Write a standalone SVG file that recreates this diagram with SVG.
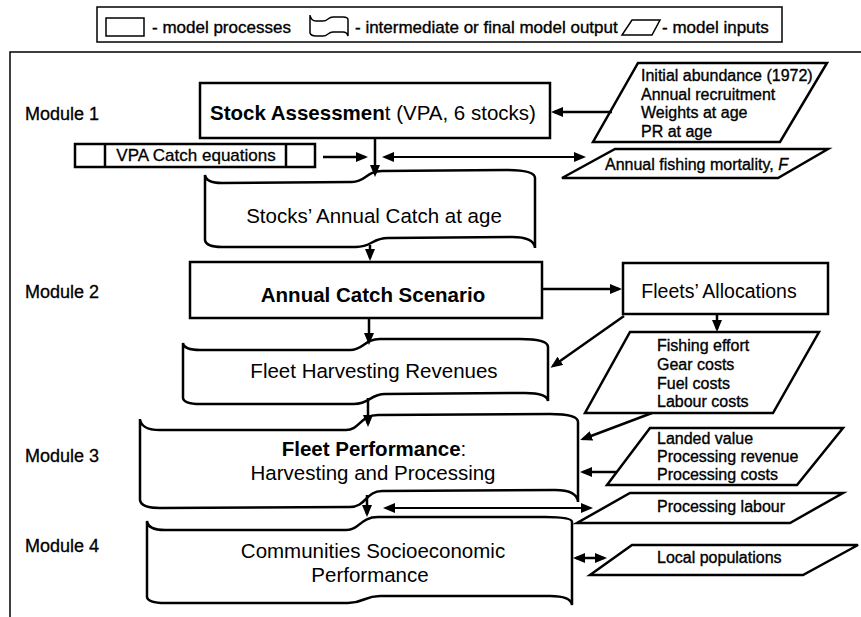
<svg xmlns="http://www.w3.org/2000/svg" width="861" height="617" viewBox="0 0 861 617">
<defs>
<marker id="ah" viewBox="0 0 12 10" refX="9" refY="5" markerWidth="12" markerHeight="10" markerUnits="userSpaceOnUse" orient="auto-start-reverse">
<path d="M0,0 L12,5 L0,10 Z" fill="#000"/>
</marker>
</defs>
<style>
.shp{fill:#fff;stroke:#000;stroke-width:2.5;stroke-linejoin:miter}
.thin{fill:#fff;stroke:#000;stroke-width:1.5}
.con{fill:none;stroke:#000;stroke-width:2.5}
.con2{fill:none;stroke:#000;stroke-width:2}
text{font-family:"Liberation Sans",Arial,sans-serif;fill:#000}
.main{font-size:20.5px;text-anchor:middle}
.mod{font-size:18px;stroke:#000;stroke-width:0.3}
.inp{font-size:16px;stroke:#000;stroke-width:0.35}
.leg{font-size:17px;stroke:#000;stroke-width:0.35}
.b{font-weight:bold}
</style>
<rect width="861" height="617" fill="#fff"/>

<g id="legend">
<rect class="thin" x="97" y="7" width="685" height="35"/>
<rect class="thin" x="106" y="18" width="38" height="18"/>
<text class="leg" x="152" y="33">- model processes</text>
<path class="thin" d="M310,15 Q311,21 316,21 L323,21 C328,21 328,17 333,17 L343,17 Q348,17 348,20 L348,36 Q347,32 343,32 L333,32 C328,32 328,36 323,36 L316,36 Q311,36 310,33 Z"/>
<text class="leg" x="355" y="33">- intermediate or final model output</text>
<path class="thin" d="M632,20 L660,20 L652,35 L622,35 Z"/>
<text class="leg" x="662" y="33">- model inputs</text>
</g>

<path id="frame" d="M10,617 L10,52 L861,52" fill="none" stroke="#000" stroke-width="1.5"/>

<g id="module-labels">
<text class="mod" x="25" y="120">Module 1</text>
<text class="mod" x="25" y="298">Module 2</text>
<text class="mod" x="25" y="462">Module 3</text>
<text class="mod" x="25" y="552">Module 4</text>
</g>

<g id="stock-assessment">
<rect class="shp" x="200" y="83" width="350" height="55"/>
<text x="210" y="120" style="font-size:20.5px"><tspan class="b">Stock Assessmen</tspan>t (VPA, 6 stocks)</text>
</g>

<g id="vpa-catch-equations">
<rect class="shp" x="75" y="144" width="240" height="23"/>
<line x1="105" y1="144" x2="105" y2="167" stroke="#000" stroke-width="2.5"/>
<line x1="286" y1="144" x2="286" y2="167" stroke="#000" stroke-width="2.5"/>
<text x="196" y="161" style="font-size:17px;text-anchor:middle;stroke:#000;stroke-width:0.3">VPA Catch equations</text>
</g>

<g id="input-initial">
<path class="shp" d="M638,63 L827,63 L780,142 L593,142 Z"/>
<text class="inp" x="641" y="81">Initial abundance (1972)</text>
<text class="inp" x="641" y="99.5">Annual recruitment</text>
<text class="inp" x="641" y="118">Weights at age</text>
<text class="inp" x="641" y="136.5">PR at age</text>
</g>

<g id="input-fishing-mortality">
<path class="shp" d="M615,149 L828,149 L778,178 L562,178 Z"/>
<text class="inp" x="605" y="170">Annual fishing mortality, <tspan font-style="italic">F</tspan></text>
</g>

<g id="stocks-catch">
<path class="shp" d="M205,175 Q206,183 222,183 L352,182 C366,182 366,171 382,171 L505,170 Q535,170 535,178 L535,248 Q534,237 512,237 L388,238 C372,238 372,247 356,247 L222,247 Q206,247 205,240 Z"/>
<text class="main" x="374" y="223">Stocks’ Annual Catch at age</text>
</g>

<g id="annual-catch-scenario">
<rect class="shp" x="190" y="262" width="352" height="56"/>
<text class="main b" x="373" y="302">Annual Catch Scenario</text>
</g>

<g id="fleets-allocations">
<rect class="shp" x="623" y="263" width="205" height="51"/>
<text class="main" x="719" y="298" style="font-size:19.5px">Fleets’ Allocations</text>
</g>

<g id="fleet-harvesting-revenues">
<path class="shp" d="M183,343 Q184,350 200,350 L350,350 C364,350 364,339 380,339 L520,339 Q548,339 548,347 L548,401 Q547,393 525,393 L385,394 C370,394 370,404 354,404 L200,404 Q184,404 183,398 Z"/>
<text class="main" x="374" y="378">Fleet Harvesting Revenues</text>
</g>

<g id="input-costs">
<path class="shp" d="M630,332 L819,332 L773,413 L585,413 Z"/>
<text class="inp" x="657" y="351">Fishing effort</text>
<text class="inp" x="657" y="370">Gear costs</text>
<text class="inp" x="657" y="389">Fuel costs</text>
<text class="inp" x="657" y="407">Labour costs</text>
</g>

<g id="fleet-performance">
<path class="shp" d="M140,419 Q141,430 160,430 L346,430 C360,430 360,415 378,415 L550,414 Q578,414 578,422 L578,502 Q577,490 555,490 L382,491 C366,491 366,507 350,507 L160,508 Q141,508 140,500 Z"/>
<text class="main" x="374" y="456"><tspan class="b">Fleet Performance</tspan>:</text>
<text class="main" x="373" y="480">Harvesting and Processing</text>
</g>

<g id="input-processing">
<path class="shp" d="M650,428 L843,428 L797,485 L607,485 Z"/>
<text class="inp" x="657" y="444">Landed value</text>
<text class="inp" x="657" y="462">Processing revenue</text>
<text class="inp" x="657" y="480">Processing costs</text>
</g>

<g id="input-processing-labour">
<path class="shp" d="M630,493 L843,493 L790,523 L577,523 Z"/>
<text class="inp" x="657" y="512">Processing labour</text>
</g>

<g id="communities">
<path class="shp" d="M147,521 Q148,530 165,530 L346,530 C360,530 360,517 378,517 L545,517 Q572,517 572,522 L572,605 Q571,596 550,596 L380,596 C364,596 364,603 348,603 L165,603 Q148,603 147,597 Z"/>
<text class="main" x="373" y="558">Communities Socioeconomic</text>
<text class="main" x="370" y="582">Performance</text>
</g>

<g id="input-local-populations">
<path class="shp" d="M632,545 L858,545 L803,575 L590,575 Z"/>
<text class="inp" x="657" y="563">Local populations</text>
</g>

<g id="connectors">
<line class="con" x1="612" y1="112" x2="554" y2="112" marker-end="url(#ah)"/>
<line class="con" x1="323" y1="157" x2="365" y2="157" marker-end="url(#ah)"/>
<line class="con" x1="375" y1="138" x2="375" y2="174" marker-end="url(#ah)"/>
<line class="con2" x1="385" y1="157" x2="583" y2="157" marker-start="url(#ah)" marker-end="url(#ah)"/>
<line class="con" x1="370" y1="245" x2="370" y2="258" marker-end="url(#ah)"/>
<line class="con" x1="542" y1="289" x2="619" y2="289" marker-end="url(#ah)"/>
<line class="con" x1="369" y1="318" x2="369" y2="342" marker-end="url(#ah)"/>
<line class="con" x1="624" y1="316" x2="553" y2="366" marker-end="url(#ah)"/>
<line class="con" x1="717" y1="314" x2="717" y2="329" marker-end="url(#ah)"/>
<line class="con" x1="368" y1="398" x2="368" y2="424" marker-end="url(#ah)"/>
<line class="con" x1="652" y1="413" x2="583" y2="439" marker-end="url(#ah)"/>
<line class="con" x1="617" y1="472" x2="583" y2="472" marker-end="url(#ah)"/>
<line class="con" x1="367" y1="495" x2="367" y2="514" marker-end="url(#ah)"/>
<line class="con2" x1="386" y1="508" x2="590" y2="508" marker-start="url(#ah)" marker-end="url(#ah)"/>
<line class="con" x1="576" y1="558" x2="604" y2="558" marker-start="url(#ah)" marker-end="url(#ah)"/>
</g>
</svg>
